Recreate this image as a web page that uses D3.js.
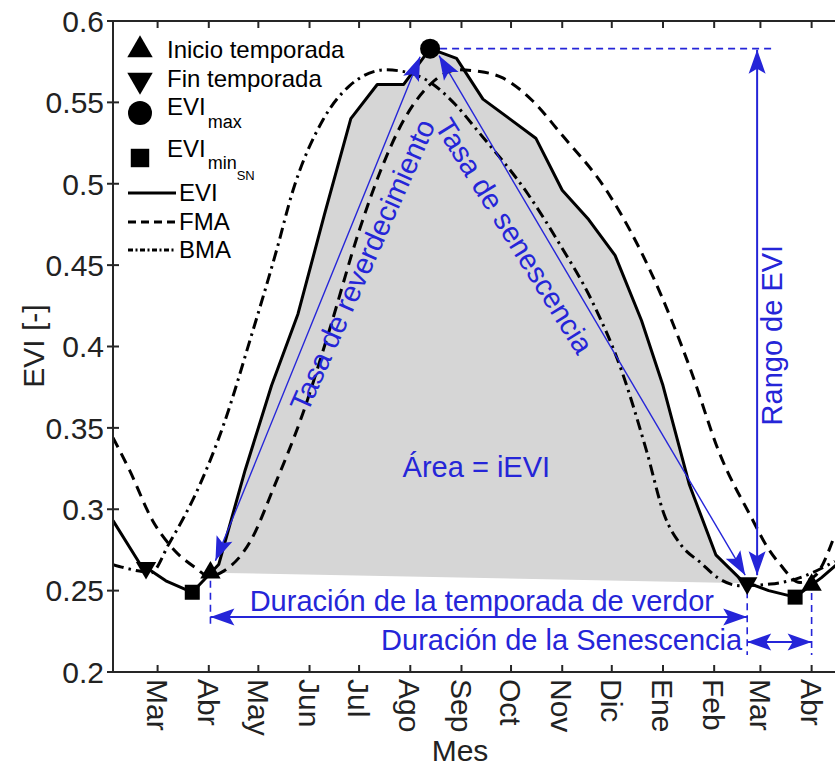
<!DOCTYPE html>
<html><head><meta charset="utf-8">
<script src="https://cdn.jsdelivr.net/npm/d3@7"></script>
<style>
body{margin:0;background:#fff}
svg{display:block}
text{font-family:"Liberation Sans",Arial,Helvetica,sans-serif}
</style>
</head><body>
<svg id="c" width="835" height="769"></svg>
<script>
// ---------------- data ----------------
const eviDates = ["2001-02-02","2001-02-18","2001-03-06","2001-03-22","2001-04-07","2001-04-23","2001-05-09","2001-05-25","2001-06-10","2001-06-26","2001-07-12","2001-07-28","2001-08-13","2001-08-29","2001-09-14","2001-09-30","2001-10-16","2001-11-01","2001-11-17","2001-12-03","2001-12-19","2002-01-01","2002-01-17","2002-02-02","2002-02-18","2002-03-06","2002-03-22","2002-04-07","2002-04-23"];
const eviValues = [0.293,0.267,0.256,0.249,0.266,0.324,0.376,0.420,0.481,0.540,0.561,0.561,0.583,0.577,0.552,0.540,0.528,0.496,0.478,0.456,0.416,0.376,0.315,0.272,0.256,0.250,0.246,0.258,0.272];

const fmaDates = ["2001-02-02","2001-02-12","2001-02-26","2001-03-11","2001-03-24","2001-04-01","2001-04-10","2001-04-26","2001-05-11","2001-05-28","2001-06-13","2001-07-01","2001-07-14","2001-07-28","2001-08-13","2001-08-30","2001-09-12","2001-09-26","2001-10-14","2001-10-31","2001-11-29","2001-12-25","2002-01-18","2002-02-04","2002-02-24","2002-03-05","2002-03-13","2002-03-25","2002-04-03","2002-04-15"];
const fmaValues = [0.344,0.324,0.293,0.275,0.264,0.259,0.262,0.280,0.315,0.359,0.410,0.471,0.508,0.539,0.561,0.570,0.569,0.565,0.551,0.531,0.494,0.445,0.385,0.335,0.294,0.277,0.266,0.255,0.259,0.284];

const bmaDates = ["2001-02-02","2001-02-18","2001-02-25","2001-03-08","2001-03-27","2001-04-10","2001-04-26","2001-05-12","2001-05-22","2001-06-09","2001-06-25","2001-07-17","2001-08-01","2001-08-12","2001-08-28","2001-09-12","2001-10-11","2001-10-31","2001-11-19","2001-12-07","2001-12-22","2002-01-02","2002-01-12","2002-01-24","2002-02-03","2002-02-17","2002-03-07","2002-03-25","2002-04-15"];
const bmaValues = [0.266,0.262,0.261,0.279,0.316,0.352,0.404,0.459,0.496,0.539,0.560,0.570,0.568,0.563,0.549,0.531,0.494,0.462,0.428,0.385,0.336,0.296,0.278,0.267,0.258,0.253,0.254,0.258,0.268];

const startDates = ["2001-04-02","2002-04-01"];      // Inicio temporada
const startValues = [0.261,0.2535];
const endDates = ["2001-02-22","2002-02-21"];        // Fin temporada
const endValues = [0.264,0.2546];
const maxDate = "2001-08-13", maxValue = 0.583;      // EVI max
const minDates = ["2002-03-22","2001-03-22"];        // EVI min SN
const minValues = [0.246,0.249];

const monthTickDates = ["2001-03-01","2001-04-01","2001-05-01","2001-06-01","2001-07-01","2001-08-01","2001-09-01","2001-10-01","2001-11-01","2001-12-01","2002-01-01","2002-02-01","2002-03-01","2002-04-01"];
const monthLabels = ["Mar","Abr","May","Jun","Jul","Ago","Sep","Oct","Nov","Dic","Ene","Feb","Mar","Abr"];
const yTicks = [0.2,0.25,0.3,0.35,0.4,0.45,0.5,0.55,0.6];

// ---------------- setup ----------------
const parse = d3.timeParse("%Y-%m-%d");
const svg = d3.select("#c");
const P = {left:113, top:21, bottom:672, right:843};
const x = d3.scaleTime().domain([parse("2001-02-02"), parse("2002-04-20")]).range([P.left, P.right]);
const y = d3.scaleLinear().domain([0.2,0.6]).range([P.bottom, P.top]);
const BLUE = "#2525d8", AX = "#262626";

const zip = (ds, vs) => ds.map((d,i)=>({date:parse(d), v:vs[i]}));
const evi = zip(eviDates, eviValues), fma = zip(fmaDates, fmaValues), bma = zip(bmaDates, bmaValues);

svg.append("defs").append("clipPath").attr("id","clip")
  .append("rect").attr("x",P.left).attr("y",P.top).attr("width",P.right-P.left).attr("height",P.bottom-P.top);

const plot = svg.append("g").attr("clip-path","url(#clip)");

// gray area between start and end of season
const s0 = {date:parse(startDates[0]), v:startValues[0]};
const e1 = {date:parse(endDates[1]), v:endValues[1]};
const areaPts = [s0, ...evi.filter(d=>d.date>s0.date && d.date<e1.date), e1];
plot.append("path").attr("d", d3.line().x(d=>x(d.date)).y(d=>y(d.v))(areaPts)+"Z")
  .attr("fill","#d6d6d6").attr("stroke","none");

const lin = d3.line().x(d=>x(d.date)).y(d=>y(d.v));
const smooth = d3.line().x(d=>x(d.date)).y(d=>y(d.v)).curve(d3.curveMonotoneX);
plot.append("path").attr("d", smooth(fma)).attr("fill","none").attr("stroke","#000").attr("stroke-width",3).attr("stroke-dasharray","11,7");
plot.append("path").attr("d", smooth(bma)).attr("fill","none").attr("stroke","#000").attr("stroke-width",3).attr("stroke-dasharray","11,5,2.5,5");
plot.append("path").attr("d", lin(evi)).attr("fill","none").attr("stroke","#000").attr("stroke-width",3).attr("stroke-linejoin","round");

// ---------------- annotations ----------------
const ann = svg.append("g");
function head(g, tip, from){
  const dx = tip[0]-from[0], dy = tip[1]-from[1], L = Math.hypot(dx,dy);
  const ux = dx/L, uy = dy/L, nx = -uy, ny = ux;
  const HL = 24, HW = 17, NT = 5;
  const pts = [tip,
    [tip[0]-HL*ux+HW/2*nx, tip[1]-HL*uy+HW/2*ny],
    [tip[0]-(HL-NT)*ux, tip[1]-(HL-NT)*uy],
    [tip[0]-HL*ux-HW/2*nx, tip[1]-HL*uy-HW/2*ny]];
  g.append("path").attr("d","M"+pts.map(p=>p.join(",")).join("L")+"Z").attr("fill",BLUE);
}
function arrow(p0,p1,w,h0,h1){
  ann.append("line").attr("x1",p0[0]).attr("y1",p0[1]).attr("x2",p1[0]).attr("y2",p1[1])
    .attr("stroke",BLUE).attr("stroke-width",w);
  if(h0) head(ann,p0,p1);
  if(h1) head(ann,p1,p0);
}
function dashed(p0,p1){
  ann.append("line").attr("x1",p0[0]).attr("y1",p0[1]).attr("x2",p1[0]).attr("y2",p1[1])
    .attr("stroke",BLUE).attr("stroke-width",1.6).attr("stroke-dasharray","7,5");
}
const pS0 = [x(parse(startDates[0])), y(startValues[0])];
const pS1 = [x(parse(startDates[1])), y(startValues[1])];
const pE1 = [x(parse(endDates[1])), y(endValues[1])];
const pM = [x(parse(maxDate)), y(maxValue)];

// rate arrows
arrow([pS0[0]+5, pS0[1]-12], [pM[0]-10, pM[1]+8], 1.4, true, true);
arrow([pM[0]+9, pM[1]+7], [pE1[0]-2, pE1[1]-8], 1.4, true, true);
// range
dashed([pM[0]+10, pM[1]], [x(parse("2002-03-08")), pM[1]]);
const xr = x(parse("2002-02-27"));
arrow([xr, pM[1]+1], [xr, pE1[1]-8], 2, true, true);
// durations
const yD1 = y(0.2338), yD2 = y(0.2184);
dashed([pS0[0], pS0[1]+8], [pS0[0], y(0.229)]);
dashed([pE1[0], pE1[1]+8], [pE1[0], y(0.2105)]);
dashed([pS1[0], pS1[1]+8], [pS1[0], y(0.2105)]);
arrow([pS0[0], yD1], [pE1[0], yD1], 2, true, true);
arrow([pE1[0], yD2], [pS1[0], yD2], 2, true, true);

function label(txt, date, val, rot, anchor, size){
  const t = ann.append("text").attr("fill",BLUE).attr("font-size",size||29)
    .attr("text-anchor",anchor||"middle")
    .attr("transform",`translate(${x(parse(date))},${y(val)}) rotate(${rot||0})`).text(txt);
  return t;
}
label("Tasa de reverdecimiento","2001-07-03",0.45,-66).attr("dy","0.35em");
label("Tasa de senescencia","2001-10-03",0.468,58).attr("dy","0.35em");
label("Área = iEVI","2001-09-10",0.3198,0);
label("Rango de EVI","2002-03-08",0.407,-90).attr("dy","0.35em");
ann.append("text").attr("fill",BLUE).attr("font-size",29).attr("text-anchor","middle")
  .attr("x",(pS0[0]+pE1[0])/2+3).attr("y",y(0.2375)).text("Duración de la temporada de verdor");
ann.append("text").attr("fill",BLUE).attr("font-size",29).attr("text-anchor","end")
  .attr("x",pE1[0]-5).attr("y",y(0.2135)).text("Duración de la Senescencia");

// ---------------- markers ----------------
const mk = svg.append("g").attr("fill","#000");
const tri = d3.symbol().type(d3.symbolTriangle).size(180);
startDates.forEach((d,i)=> mk.append("path").attr("d",tri()).attr("transform",`translate(${x(parse(d))},${y(startValues[i])})`));
endDates.forEach((d,i)=> mk.append("path").attr("d",tri()).attr("transform",`translate(${x(parse(d))},${y(endValues[i])}) rotate(180)`));
minDates.forEach((d,i)=> mk.append("path").attr("d",d3.symbol().type(d3.symbolSquare).size(225)()).attr("transform",`translate(${x(parse(d))},${y(minValues[i])})`));
mk.append("circle").attr("cx",pM[0]).attr("cy",pM[1]).attr("r",10);

// ---------------- axes ----------------
const ax = svg.append("g");
ax.append("line").attr("x1",P.left).attr("x2",P.left).attr("y1",P.top).attr("y2",P.bottom).attr("stroke",AX).attr("stroke-width",2);
ax.append("line").attr("x1",P.left).attr("x2",P.right).attr("y1",P.bottom).attr("y2",P.bottom).attr("stroke",AX).attr("stroke-width",2);
ax.append("line").attr("x1",P.left).attr("x2",P.right).attr("y1",P.top).attr("y2",P.top).attr("stroke",AX).attr("stroke-width",2);
yTicks.forEach(v=>{
  ax.append("line").attr("x1",P.left-6).attr("x2",P.left+6).attr("y1",y(v)).attr("y2",y(v)).attr("stroke",AX).attr("stroke-width",2);
  ax.append("text").attr("x",P.left-9).attr("y",y(v)).attr("dy","0.36em").attr("text-anchor","end")
    .attr("font-size",30).attr("fill","#222").text(String(+v.toFixed(2)));
});
monthTickDates.forEach((d,i)=>{
  const xx = x(parse(d));
  ax.append("line").attr("x1",xx).attr("x2",xx).attr("y1",P.bottom).attr("y2",P.bottom-7).attr("stroke",AX).attr("stroke-width",2);
  ax.append("line").attr("x1",xx).attr("x2",xx).attr("y1",P.top).attr("y2",P.top+7).attr("stroke",AX).attr("stroke-width",2);
  ax.append("text").attr("transform",`translate(${xx},${P.bottom+7}) rotate(90)`).attr("dy","0.36em")
    .attr("font-size",30).attr("fill","#222").text(monthLabels[i]);
});
svg.append("text").attr("x",460).attr("y",761).attr("text-anchor","middle").attr("font-size",30).attr("fill","#222").text("Mes");
svg.append("text").attr("transform","translate(44,346) rotate(-90)").attr("text-anchor","middle").attr("font-size",30).attr("fill","#222").text("EVI [-]");

// ---------------- legend ----------------
const lg = svg.append("g").attr("fill","#000");
const LX = 140, TX = 167;
lg.append("path").attr("d",d3.symbol().type(d3.symbolTriangle).size(280)()).attr("transform",`translate(${LX},50)`);
lg.append("text").attr("x",TX).attr("y",58).attr("font-size",24).text("Inicio temporada");
lg.append("path").attr("d",d3.symbol().type(d3.symbolTriangle).size(280)()).attr("transform",`translate(${LX},80) rotate(180)`);
lg.append("text").attr("x",TX).attr("y",87).attr("font-size",24).text("Fin temporada");
lg.append("circle").attr("cx",LX).attr("cy",113).attr("r",12);
const t1 = lg.append("text").attr("x",TX).attr("y",115).attr("font-size",24);
t1.append("tspan").text("EVI");
t1.append("tspan").attr("font-size",18).attr("dy",13).attr("dx",2).text("max");
lg.append("path").attr("d",d3.symbol().type(d3.symbolSquare).size(340)()).attr("transform",`translate(${LX},158)`);
const t2 = lg.append("text").attr("x",TX).attr("y",157).attr("font-size",24);
t2.append("tspan").text("EVI");
t2.append("tspan").attr("font-size",18).attr("dy",12).attr("dx",2).text("min");
t2.append("tspan").attr("font-size",13).attr("dy",11).text("SN");
const legLines = [["EVI",null,193],["FMA","8,5",222],["BMA","5,2.5,2,2.5",250]];
legLines.forEach(([n,da,yy])=>{
  const l = lg.append("line").attr("x1",128).attr("x2",176).attr("y1",yy).attr("y2",yy).attr("stroke","#000").attr("stroke-width",3);
  if(da) l.attr("stroke-dasharray",da);
  lg.append("text").attr("x",179).attr("y",yy+8).attr("font-size",24).text(n);
});
</script>
</body></html>
